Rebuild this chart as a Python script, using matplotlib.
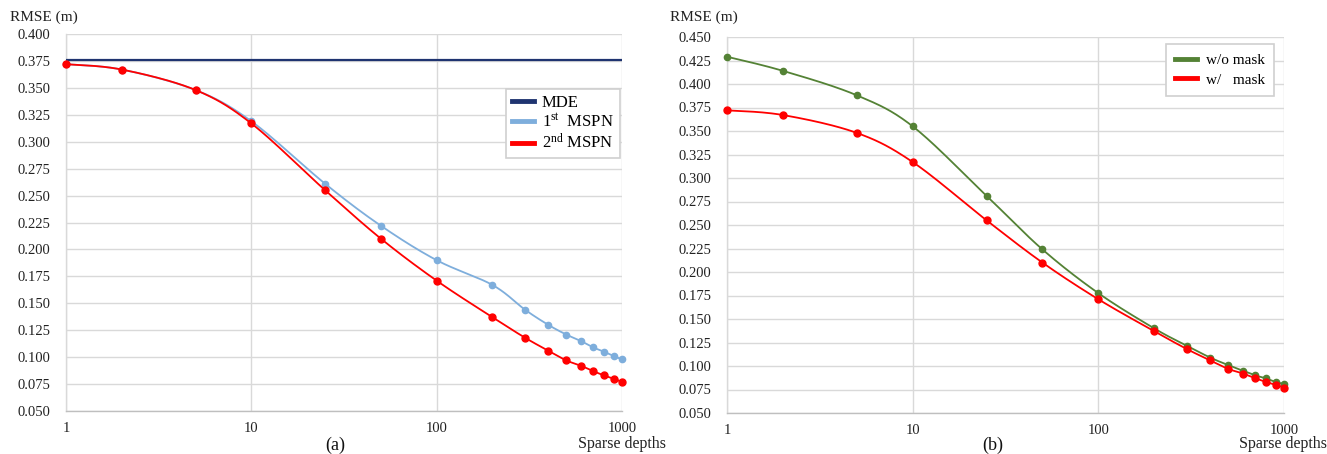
import numpy as np
import matplotlib
matplotlib.use("Agg")
import matplotlib.pyplot as plt
from matplotlib.ticker import FixedLocator, FixedFormatter

plt.rcParams['font.family'] = ['Liberation Serif', 'DejaVu Serif']
plt.rcParams['mathtext.fontset'] = 'custom'
plt.rcParams['mathtext.rm'] = 'Liberation Serif'
plt.rcParams['mathtext.it'] = 'Liberation Serif:italic'

# ---------------- data ----------------
depths = [1, 2, 5, 10, 25, 50, 100, 200, 300, 400, 500, 600, 700, 800, 900, 1000]
mde_value = 0.376
mspn1 = [0.372, 0.367, 0.348, 0.319, 0.261, 0.222, 0.190, 0.167, 0.144, 0.130,
         0.121, 0.115, 0.109, 0.105, 0.101, 0.098]
mspn2 = [0.372, 0.367, 0.348, 0.317, 0.255, 0.210, 0.171, 0.137, 0.118, 0.106,
         0.097, 0.092, 0.087, 0.083, 0.080, 0.077]
wo_mask = [0.429, 0.414, 0.388, 0.355, 0.281, 0.224, 0.1775, 0.140, 0.1215, 0.109,
           0.101, 0.095, 0.090, 0.0868, 0.083, 0.081]
w_mask = mspn2

yticks_a = [0.050, 0.075, 0.100, 0.125, 0.150, 0.175, 0.200, 0.225, 0.250, 0.275,
            0.300, 0.325, 0.350, 0.375, 0.400]
yticks_b = yticks_a + [0.425, 0.450]
xticks = [1, 10, 100, 1000]
xticklabels = ['1', '10', '100', '1000']

# colours
C_MDE = '#1f3470'
C_BLUE = '#7eaedc'
C_RED = '#ff0000'
C_GREEN = '#548235'
C_GRID = '#d9d9d9'


def smooth(xs, ys, xr, yr, n=30):
    """Catmull-Rom style smoothing in normalised (log x, y) space, for drawing."""
    lx = (np.log10(np.asarray(xs, float)) - np.log10(xr[0])) / (np.log10(xr[1]) - np.log10(xr[0]))
    ly = (np.asarray(ys, float) - yr[0]) / (yr[1] - yr[0])
    P = np.column_stack([lx, ly * 0.68])
    out = []
    for i in range(len(P) - 1):
        p0 = P[i - 1] if i > 0 else P[i]
        p1, p2 = P[i], P[i + 1]
        p3 = P[i + 2] if i + 2 < len(P) else P[i + 1]
        t = 0.5 / 3.0
        c1 = p1 + (p2 - p0) * t
        c2 = p2 - (p3 - p1) * t
        s = np.linspace(0, 1, n)[:, None]
        seg = ((1 - s) ** 3) * p1 + 3 * ((1 - s) ** 2) * s * c1 + 3 * (1 - s) * s ** 2 * c2 + s ** 3 * p2
        out.append(seg if i == 0 else seg[1:])
    Q = np.vstack(out)
    X = 10 ** (Q[:, 0] * (np.log10(xr[1]) - np.log10(xr[0])) + np.log10(xr[0]))
    Y = Q[:, 1] / 0.68 * (yr[1] - yr[0]) + yr[0]
    return X, Y


def style_axes(ax, yticks, ylim):
    ax.set_xscale('log')
    ax.set_xlim(1, 1000)
    ax.set_ylim(*ylim)
    ax.xaxis.set_major_locator(FixedLocator(xticks))
    ax.xaxis.set_major_formatter(FixedFormatter(xticklabels))
    ax.xaxis.set_minor_locator(FixedLocator([]))
    ax.set_yticks(yticks)
    ax.set_yticklabels(['%.3f' % v for v in yticks])
    ax.grid(True, color=C_GRID, linewidth=1.0)
    ax.set_axisbelow(True)
    for s in ['top', 'right']:
        ax.spines[s].set_visible(False)
    ax.spines['left'].set_color(C_GRID)
    ax.spines['bottom'].set_color('#bfbfbf')
    ax.spines['left'].set_linewidth(1.0)
    ax.spines['bottom'].set_linewidth(1.0)
    ax.tick_params(axis='both', length=0, labelsize=10.5, colors='#222222')
    ax.tick_params(axis='y', pad=11)
    ax.tick_params(axis='x', pad=8)


W, H = 1327, 454
fig = plt.figure(figsize=(W / 100, H / 100), dpi=100)

ax1 = fig.add_axes([66 / W, 1 - 411 / H, (622 - 66) / W, (411 - 34) / H])
ax2 = fig.add_axes([727 / W, 1 - 413 / H, (1284 - 727) / W, (413 - 37) / H])

ylim_a = (0.05, 0.40)
ylim_b = (0.05, 0.45)
style_axes(ax1, yticks_a, ylim_a)
style_axes(ax2, yticks_b, ylim_b)

# panel (a)
ax1.plot([1, 1000], [mde_value, mde_value], color=C_MDE, lw=1.6, label='MDE', zorder=3)
sx, sy = smooth(depths, mspn1, (1, 1000), ylim_a)
ax1.plot(sx, sy, color=C_BLUE, lw=1.3, zorder=4)
ax1.plot(depths, mspn1, 'o', color=C_BLUE, ms=4.5, zorder=4, clip_on=False)
sx, sy = smooth(depths, mspn2, (1, 1000), ylim_a)
ax1.plot(sx, sy, color=C_RED, lw=1.3, zorder=5)
ax1.plot(depths, mspn2, 'o', color=C_RED, ms=5, zorder=5, clip_on=False)
h1 = [plt.Line2D([], [], color=C_MDE, lw=3.5),
      plt.Line2D([], [], color=C_BLUE, lw=3.5),
      plt.Line2D([], [], color=C_RED, lw=3.5)]
leg1 = ax1.legend(h1, ['MDE', r'1$^{\mathrm{st}}$  MSPN', r'2$^{\mathrm{nd}}$ MSPN'],
                  loc='upper left', bbox_to_anchor=((506 - 66) / 556, 1 - (89 - 34) / 377),
                  borderaxespad=0, fontsize=12, frameon=True, fancybox=False,
                  edgecolor='#d0d0d0', handlelength=1.3, handletextpad=0.5,
                  borderpad=0.35, labelspacing=0.15, framealpha=1)
leg1.get_frame().set_linewidth(1.2)

# panel (b)
sx, sy = smooth(depths, wo_mask, (1, 1000), ylim_b)
ax2.plot(sx, sy, color=C_GREEN, lw=1.3, zorder=4)
ax2.plot(depths, wo_mask, 'o', color=C_GREEN, ms=4.5, zorder=4, clip_on=False)
sx, sy = smooth(depths, w_mask, (1, 1000), ylim_b)
ax2.plot(sx, sy, color=C_RED, lw=1.3, zorder=5)
ax2.plot(depths, w_mask, 'o', color=C_RED, ms=5, zorder=5, clip_on=False)
h2 = [plt.Line2D([], [], color=C_GREEN, lw=3.5),
      plt.Line2D([], [], color=C_RED, lw=3.5)]
leg2 = ax2.legend(h2, ['w/o mask', 'w/   mask'],
                  loc='upper left', bbox_to_anchor=((1166 - 727) / 557, 1 - (44 - 37) / 376),
                  borderaxespad=0, fontsize=11, frameon=True, fancybox=False,
                  edgecolor='#d0d0d0', handlelength=1.45, handletextpad=0.55,
                  borderpad=0.6, labelspacing=0.4, framealpha=1)
leg2.get_frame().set_linewidth(1.2)

# texts
fig.text(10 / W, 1 - 17 / H, 'RMSE (m)', fontsize=11, va='center', ha='left', color='#222222')
fig.text(670 / W, 1 - 17 / H, 'RMSE (m)', fontsize=11, va='center', ha='left', color='#222222')
fig.text(335 / W, 1 - 445 / H, '(a)', fontsize=13, va='center', ha='center', color='#111111')
fig.text(993 / W, 1 - 445 / H, '(b)', fontsize=13, va='center', ha='center', color='#111111')
fig.text(578 / W, 1 - 444 / H, 'Sparse depths', fontsize=11.5, va='center', ha='left', color='#222222')
fig.text(1239 / W, 1 - 444 / H, 'Sparse depths', fontsize=11.5, va='center', ha='left', color='#222222')

fig.savefig('out.png', dpi=100)
